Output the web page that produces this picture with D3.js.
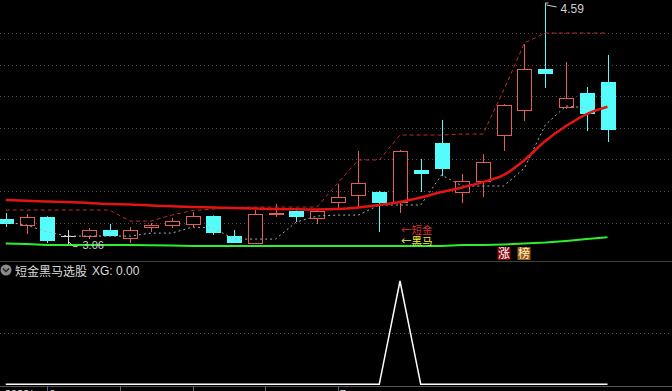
<!DOCTYPE html>
<html><head><meta charset="utf-8">
<script src="https://cdn.jsdelivr.net/npm/d3@7"></script>
<style>html,body{margin:0;padding:0;background:#000;overflow:hidden}svg{display:block}</style>
</head><body><svg id="c" width="672" height="391"></svg>
<script>
// ---- data ----
const open  = [3.22,3.178,3.235,3.114,3.108,3.152,3.095,3.165,3.178,3.184,3.241,3.114,3.065,3.247,3.273,3.222,3.323,3.368,3.393,3.323,3.532,3.703,3.387,3.456,3.748,3.906,4.172,3.925,4.02,4.09];
const high  = [3.26,3.254,3.24,3.152,3.165,3.19,3.171,3.197,3.228,3.266,3.245,3.152,3.279,3.317,3.276,3.28,3.444,3.653,3.40,3.66,3.602,3.849,3.507,3.634,3.95,4.33,4.59,4.216,4.058,4.261];
const low   = [3.171,3.127,3.07,3.06,3.095,3.114,3.07,3.14,3.165,3.171,3.121,3.07,3.065,3.235,3.203,3.19,3.292,3.298,3.14,3.26,3.393,3.494,3.323,3.361,3.653,3.843,4.052,3.92,3.779,3.71];
const close = [3.19,3.235,3.083,3.114,3.152,3.114,3.152,3.184,3.209,3.241,3.133,3.07,3.254,3.26,3.235,3.273,3.361,3.45,3.323,3.653,3.507,3.539,3.463,3.583,3.944,4.172,4.14,3.988,3.887,3.786];
const maLine    = [3.342,3.337,3.333,3.330,3.323,3.317,3.314,3.308,3.303,3.298,3.295,3.292,3.289,3.285,3.284,3.282,3.285,3.295,3.311,3.330,3.358,3.393,3.422,3.456,3.501,3.596,3.716,3.811,3.887,3.933];
const baseLine  = [3.067,3.064,3.057,3.057,3.057,3.057,3.057,3.056,3.054,3.051,3.051,3.051,3.051,3.051,3.051,3.051,3.051,3.051,3.051,3.051,3.051,3.051,3.057,3.057,3.061,3.067,3.073,3.083,3.095,3.106];
const upperLine = [3.279,3.279,3.279,3.279,3.279,3.279,3.209,3.209,3.247,3.276,3.285,3.295,3.298,3.298,3.298,3.298,3.45,3.596,3.596,3.754,3.754,3.754,3.760,3.760,4.039,4.337,4.40,4.40,4.40,4.40];
const lowerLine = [3.203,3.184,3.140,3.114,3.114,3.114,3.114,3.133,3.133,3.171,3.165,3.095,3.095,3.095,3.203,3.241,3.247,3.247,3.311,3.311,3.311,3.501,3.431,3.431,3.431,3.545,3.817,3.938,3.925,null];
const xg = [0,0,0,0,0,0,0,0,0,0,0,0,0,0,0,0,0,0,0,1,0,0,0,0,0,0,0,0,0,0];
const gridVals = [3.2,3.4,3.6,3.8,4.0,4.2,4.4];
const xTickIdx = [2,5.5,9,12.5,16];
const xTickLabels = [{i:-0.05,t:"2023/"},{i:2.1,t:"6"},{i:16.1,t:"7"}];
const signalLabels = [{t:"←短金",c:"#d8322c"},{t:"←黑马",c:"#f4ee3c"}];
const tagLabels = [{i:24,t:"涨",bg:"#8a0a12",fg:"#ffffff"},{i:25,t:"榜",bg:"#9c5a18",fg:"#fff2c0"}];
const titleText = "短金黑马选股";
const xgText = "XG: 0.00";

// ---- drawing ----
const W=672,H=391;
const svg=d3.select('#c');
svg.append('rect').attr('width',W).attr('height',H).attr('fill','#000');
const n=open.length;
const x=d3.scaleLinear().domain([0,n-1]).range([5.75,607.5]);
const y=d3.scaleLinear().domain([3.2,4.4]).range([222.5,33]);
const y2=d3.scaleLinear().domain([0,1]).range([384.3,281]);
const px=v=>Math.round(v)+0.5;

// grid
svg.append('g').selectAll('line').data(gridVals).join('line')
  .attr('x1',0).attr('x2',W).attr('y1',d=>px(y(d))).attr('y2',d=>px(y(d)))
  .attr('stroke','#505050').attr('stroke-dasharray','1,3');

// candles
const RED='#e45c5c',CY='#54fcfc',FLAT='#d8d8d8';
const cg=svg.append('g');
d3.range(n).forEach(i=>{
  const o=open[i],c=close[i];
  const col=c>o?RED:(c<o?CY:FLAT);
  const xc=Math.round(x(i));
  cg.append('line').attr('x1',xc+0.5).attr('x2',xc+0.5)
    .attr('y1',y(high[i])).attr('y2',y(low[i])).attr('stroke',col);
  const top=Math.round(y(Math.max(o,c))),bot=Math.round(y(Math.min(o,c)));
  if(c>o){
    cg.append('rect').attr('x',xc-7+0.5).attr('y',top+0.5).attr('width',14).attr('height',Math.max(1,bot-top-1))
      .attr('fill','#000').attr('stroke',col);
  } else if(c<o){
    cg.append('rect').attr('x',xc-7).attr('y',top).attr('width',15).attr('height',Math.max(1,bot-top)).attr('fill',col);
  } else {
    cg.append('line').attr('x1',xc-7).attr('x2',xc+8).attr('y1',top+0.5).attr('y2',top+0.5).attr('stroke',col);
  }
});

// lines
const lineGen=d3.line().defined(d=>d!=null).x((d,i)=>x(i)).y(d=>y(d));
const lineGen2=d3.line().x((d,i)=>x(i)).y(d=>y(d)).curve(d3.curveMonotoneX);
svg.append('path').datum(upperLine).attr('d',lineGen).attr('fill','none')
  .attr('stroke','#c42a2a').attr('stroke-width',1).attr('stroke-dasharray','4,3');
svg.append('path').datum(lowerLine).attr('d',lineGen).attr('fill','none')
  .attr('stroke','#b0b0b0').attr('stroke-width',1).attr('stroke-dasharray','2,3');
svg.append('path').datum(baseLine).attr('d',lineGen).attr('fill','none')
  .attr('stroke','#30ec30').attr('stroke-width',2);
svg.append('path').datum(maLine).attr('d',lineGen2).attr('fill','none')
  .attr('stroke','#e41414').attr('stroke-width',2.5);

// high / low markers
const hi=d3.maxIndex(high), lo=d3.minIndex(low);
const hx=Math.round(x(hi))+0.5, hy=y(high[hi]);
svg.append('path').attr('d',`M${hx},${hy} h3 M${hx+1},${hy+2} L${hx+11},${hy+4}`)
  .attr('stroke','#cfcfcf').attr('fill','none');
svg.append('text').attr('x',hx+15).attr('y',hy+10).text(high[hi].toFixed(2))
  .attr('fill','#cfcfcf').attr('font-family','Liberation Sans, Arial, sans-serif').attr('font-size',12);
const lx=Math.round(x(lo))+0.5, ly=y(low[lo]);
svg.append('path').attr('d',`M${lx},${ly-3} L${lx+5},${ly+2} h4`)
  .attr('stroke','#cfcfcf').attr('fill','none');
svg.append('text').attr('x',lx+14).attr('y',ly+4.5).text(low[lo].toFixed(2))
  .attr('fill','#cfcfcf').attr('font-family','Liberation Sans, Arial, sans-serif').attr('font-size',11);

// signal labels at XG bar
const si=xg.indexOf(1);
signalLabels.forEach((s,k)=>{
  svg.append('text').attr('x',x(si)+1).attr('y',233.5+k*11).text(s.t)
    .attr('fill',s.c).attr('font-family','Noto Sans CJK SC').attr('font-size',10.5);
});

// tags
tagLabels.forEach(t=>{
  const cx=Math.round(x(t.i));
  svg.append('rect').attr('x',cx-6.5).attr('y',247).attr('width',13).attr('height',13).attr('fill',t.bg);
  svg.append('text').attr('x',cx).attr('y',258).attr('text-anchor','middle').text(t.t)
    .attr('fill',t.fg).attr('font-family','Noto Sans CJK SC').attr('font-size',12);
});

// lower panel
svg.append('line').attr('x1',0).attr('x2',W).attr('y1',261.5).attr('y2',261.5).attr('stroke','#404040');
svg.append('line').attr('x1',0).attr('x2',W).attr('y1',px(y2(0.5))).attr('y2',px(y2(0.5)))
  .attr('stroke','#505050').attr('stroke-dasharray','1,3');
svg.append('circle').attr('cx',6).attr('cy',270).attr('r',5.5).attr('fill','#8a8a8a');
svg.append('path').attr('d','M3,268.5 L6,271.5 L9,268.5').attr('stroke','#202020').attr('stroke-width',1.5).attr('fill','none');
svg.append('text').attr('x',15).attr('y',275.5).text(titleText)
  .attr('fill','#dcdcdc').attr('font-family','Noto Sans CJK SC').attr('font-size',12);
svg.append('text').attr('x',92).attr('y',275).text(xgText)
  .attr('fill','#dcdcdc').attr('font-family','Liberation Sans, Arial, sans-serif').attr('font-size',12);
svg.append('path').datum(xg).attr('d',d3.line().x((d,i)=>x(i)).y(d=>y2(d))).attr('fill','none')
  .attr('stroke','#ffffff').attr('stroke-width',1.5);

// bottom axis
svg.append('line').attr('x1',0).attr('x2',W).attr('y1',386.5).attr('y2',386.5).attr('stroke','#555');
svg.append('g').selectAll('line').data(xTickIdx).join('line')
  .attr('x1',d=>px(x(d))).attr('x2',d=>px(x(d))).attr('y1',386).attr('y2',391).attr('stroke','#666');
svg.append('g').selectAll('text').data(xTickLabels).join('text')
  .attr('x',d=>x(d.i)).attr('y',397.5).text(d=>d.t)
  .attr('fill','#e0e0e0').attr('font-family','Liberation Sans, Arial, sans-serif').attr('font-size',11);
</script></body></html>
